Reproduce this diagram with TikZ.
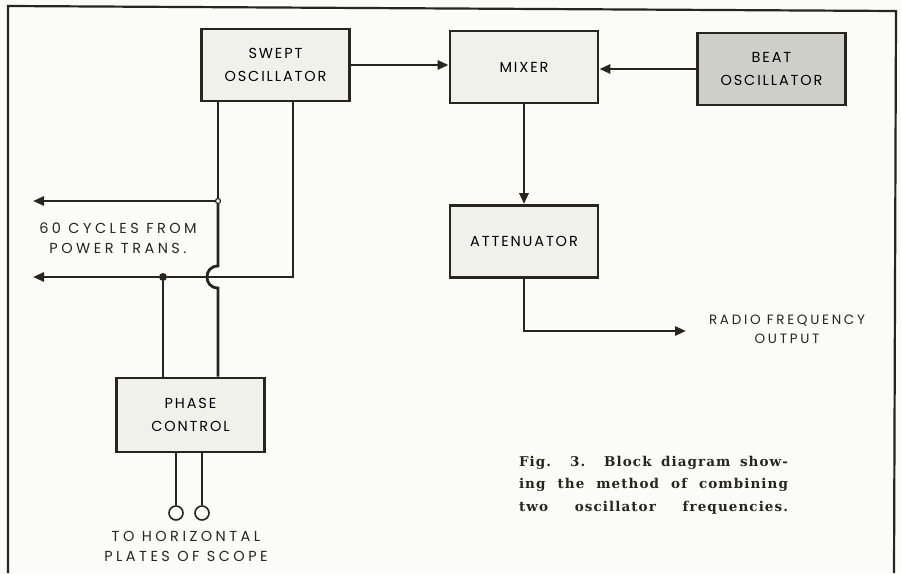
\documentclass[tikz,border=0pt]{standalone}
\usepackage{fontspec}
\usepackage{tikz}
\usetikzlibrary{arrows.meta,calc,positioning}
\newfontfamily\lblfont[LetterSpace=24]{Poppins}
\newfontfamily\rflblfont[LetterSpace=20]{Poppins}
\newfontfamily\boxfont[LetterSpace=13]{Poppins}
\newfontfamily\capfont[LetterSpace=8]{DejaVu Serif}
\definecolor{paper}{HTML}{FBFBF8}
\definecolor{inkline}{HTML}{26261F}
\definecolor{stipple}{HTML}{F1F1EC}
\definecolor{shade}{HTML}{CFCFCA}
\tikzset{block/.style={draw=inkline,fill=stipple,line width=2.8pt,minimum width=148pt,minimum height=72pt,inner sep=0pt,align=center,font=\boxfont\fontsize{14.5}{23}\selectfont}, darkblock/.style={block,fill=shade}, wire/.style={draw=inkline,line width=2.8pt}, feed/.style={wire,-{Triangle[length=11pt,width=9pt]}}, note/.style={font=\lblfont\fontsize{14.5}{20}\selectfont,align=center,inkline,inner sep=0pt}, tap/.style={circle,draw=inkline,fill=paper,line width=1.2pt,inner sep=0pt,minimum size=5pt}, knot/.style={circle,fill=inkline,inner sep=0pt,minimum size=8pt}, plate/.style={circle,draw=inkline,fill=paper,line width=1.6pt,inner sep=0pt,minimum size=14pt}}

\begin{document}
\begin{tikzpicture}[x=1pt,y=-1pt]
\useasboundingbox[fill=paper] (0,0) rectangle (901,573);
% frame
\draw[inkline,line width=2.2pt] (8,573)--(8,6)--(896,11)--(894,573);
% blocks
\node[block] (swept) at (275.5,65) {SWEPT\\OSCILLATOR};
\node[block] (mixer) at (524,67) {MIXER};
\node[darkblock] (beat) at (771.5,69) {BEAT\\OSCILLATOR};
\node[block] (atten) at (524,241.5) {ATTENUATOR};
\node[block,minimum height=74pt] (phase) at (190.5,415) {PHASE\\CONTROL};
% signal path
\draw[feed] (swept.east) -- (swept.east -| mixer.west);
\draw[feed] (beat.west) -- (beat.west -| mixer.east);
\draw[feed] (mixer.south) -- (atten.north);
\coordinate (rfend) at (686,331);
\draw[feed] (atten.south) |- (rfend);
\node[note,font=\rflblfont\fontsize{13.5}{19}\selectfont] (rflabel) at (787,329) {RADIO FREQUENCY\\OUTPUT};
% sweep and 60 cycle leads
\node[tap] (jA) at (218,201) {};
\coordinate (hopTop) at (218,266);
\coordinate (hopBot) at (218,288);
\coordinate (bend) at (293,277);
\coordinate (upEnd) at (33,201);
\coordinate (loEnd) at (33,277);
\node[knot] (jB) at (163,277) {};
\draw[wire] (jA |- swept.south) -- (jA);
\draw[wire] (jA) -- (hopTop) .. controls (203.3,266) and (203.3,288) .. (hopBot) -- (hopBot |- phase.north);
\draw[feed] (jA) -- (upEnd);
\draw[wire] (bend |- swept.south) -- (bend) -- (jB);
\draw[feed] (jB) -- (loEnd);
\draw[wire] (jB) -- (jB |- phase.north);
\node[note] (mains) at (118,238) {60 CYCLES FROM\\POWER TRANS.};
% scope terminals
\node[plate] (p1) at (176,513) {};
\node[plate] (p2) at (202,513) {};
\draw[wire] (p1 |- phase.south) -- (p1);
\draw[wire] (p2 |- phase.south) -- (p2);
\node[note] (scope) at (186,546) {TO HORIZONTAL\\PLATES OF SCOPE};
% caption
\node[font=\capfont\bfseries\fontsize{13.5}{22.5}\selectfont,inkline,align=left,inner sep=0pt] (caption) at (653.5,485) {\makebox[269pt][s]{Fig. 3. Block diagram show-}\\\makebox[269pt][s]{ing the method of combining}\\\makebox[269pt][s]{two oscillator frequencies.}};
\end{tikzpicture}
\end{document}
